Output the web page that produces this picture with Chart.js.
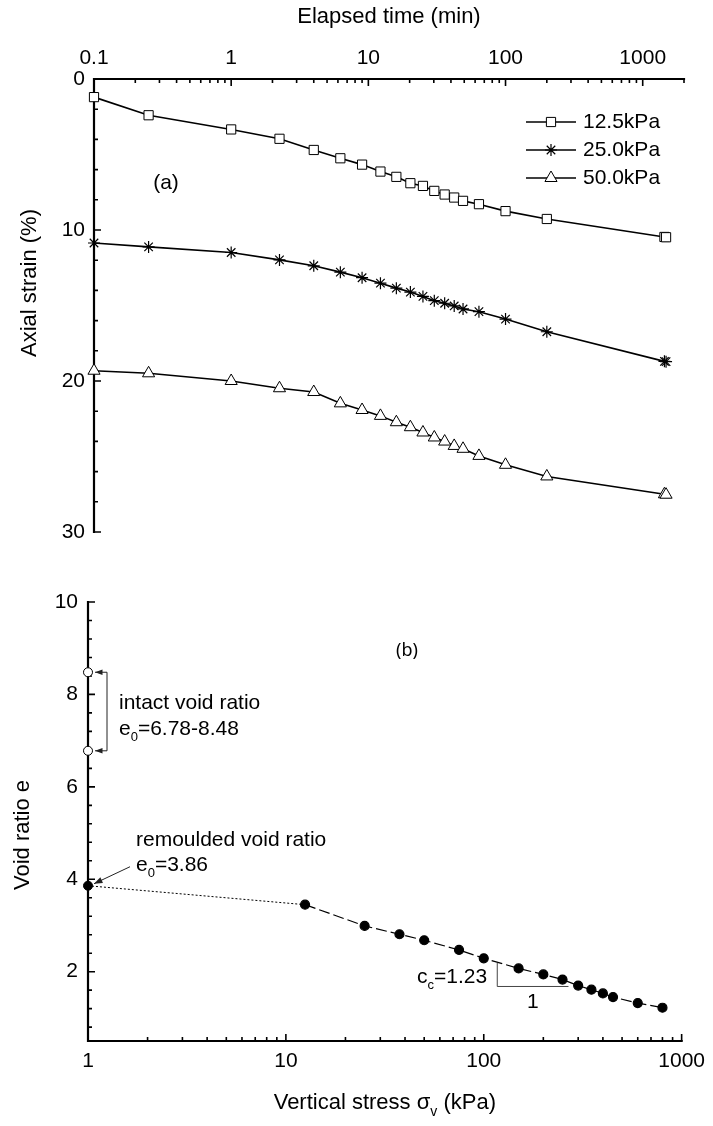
<!DOCTYPE html>
<html lang="en">
<head>
<meta charset="UTF-8">
<title>Creep and compression curves</title>
<script src="https://cdn.jsdelivr.net/npm/chart.js"></script>
<style>
  body { margin: 0; background: #fff; }
  #wrap { position: relative; width: 713px; height: 1126px; }
  .box { position: absolute; left: 0; width: 713px; }
  #boxA { top: 0; height: 570px; }
  #boxB { top: 570px; height: 556px; }
</style>
</head>
<body>
<div id="wrap">
  <div class="box" id="boxA"><canvas id="chartA"></canvas></div>
  <div class="box" id="boxB"><canvas id="chartB"></canvas></div>
</div>
<script>
// (a) elapsed time (min) vs axial strain (%)
const times = [0.1, 0.25, 1, 2.25, 4, 6.25, 9, 12.25, 16, 20.25, 25, 30.25, 36, 42.25, 49, 64, 100, 200, 1440, 1480];
const strain125 = [1.2, 2.4, 3.34, 3.96, 4.70, 5.25, 5.67, 6.13, 6.48, 6.90, 7.08, 7.41, 7.65, 7.85, 8.07, 8.29, 8.75, 9.27, 10.46, 10.48];
const strain250 = [10.86, 11.12, 11.49, 11.98, 12.37, 12.79, 13.16, 13.52, 13.85, 14.11, 14.40, 14.68, 14.85, 15.03, 15.23, 15.41, 15.90, 16.74, 18.70, 18.72];
const strain500 = [19.32, 19.49, 20.0, 20.48, 20.73, 21.48, 21.92, 22.31, 22.73, 23.06, 23.41, 23.74, 24.01, 24.30, 24.49, 24.96, 25.55, 26.32, 27.50, 27.53];
const loadLabels = ['12.5kPa', '25.0kPa', '50.0kPa'];

// (b) vertical stress (kPa) vs void ratio
const stress = [12.5, 25, 37.5, 50, 75, 100, 150, 200, 250, 300, 350, 400, 450, 600, 800];
const voidRatio = [3.45, 2.99, 2.81, 2.68, 2.47, 2.29, 2.07, 1.94, 1.83, 1.70, 1.61, 1.53, 1.45, 1.32, 1.22];
const remouldedE = 3.86;
const intactE = [8.48, 6.78];
const ccLegX = [117, 268];   // slope triangle, kPa
const ccLegY = [2.19, 1.68]; // slope triangle, void ratio

const FONT = '"Liberation Sans", Arial, sans-serif';
Chart.defaults.font.family = FONT;
Chart.defaults.color = '#000';

function logTicks(min, max) {
  const majors = [], minors = [];
  for (let p = Math.floor(Math.log10(min)); p <= Math.ceil(Math.log10(max)); p++) {
    for (let k = 1; k < 10; k++) {
      const v = k * Math.pow(10, p);
      if (v < min * 0.999 || v > max * 1.001) continue;
      (k === 1 ? majors : minors).push(v);
    }
  }
  return { majors, minors };
}
function linTicks(min, max, step) {
  const out = [];
  for (let v = Math.ceil(min / step) * step; v <= max + 1e-9; v += step) out.push(+v.toFixed(4));
  return out;
}

// axis lines and inward ticks
const frame = {
  id: 'frame',
  beforeDatasetsDraw(chart, args, o) {
    const { ctx, chartArea: a } = chart;
    const xs = chart.scales.x, ys = chart.scales.y;
    const xEdge = o.top ? a.top : a.bottom;
    const dir = o.top ? 1 : -1;
    ctx.save();
    ctx.strokeStyle = '#000';
    ctx.lineWidth = 1.6;
    ctx.beginPath();
    o.xMajor.forEach(v => { const p = xs.getPixelForValue(v); ctx.moveTo(p, xEdge); ctx.lineTo(p, xEdge + dir * 7); });
    o.xMinor.forEach(v => { const p = xs.getPixelForValue(v); ctx.moveTo(p, xEdge); ctx.lineTo(p, xEdge + dir * 4); });
    o.yMajor.forEach(v => { const p = ys.getPixelForValue(v); ctx.moveTo(a.left, p); ctx.lineTo(a.left + 7, p); });
    o.yMinor.forEach(v => { const p = ys.getPixelForValue(v); ctx.moveTo(a.left, p); ctx.lineTo(a.left + 4, p); });
    ctx.stroke();
    ctx.lineWidth = 2.2;
    ctx.lineCap = 'square';
    ctx.beginPath();
    ctx.moveTo(a.left, xEdge); ctx.lineTo(a.right, xEdge);
    ctx.moveTo(a.left, a.top); ctx.lineTo(a.left, a.bottom);
    ctx.stroke();
    ctx.restore();
  }
};

function drawParts(ctx, parts, x, y, size, align) {
  // parts: [text, isSub]
  const sub = Math.round(size * 0.62);
  const widths = parts.map(p => { ctx.font = (p[1] ? sub : size) + 'px ' + FONT; return ctx.measureText(p[0]).width; });
  const total = widths.reduce((s, w) => s + w, 0);
  let cx = align === 'center' ? x - total / 2 : x;
  ctx.textAlign = 'left';
  ctx.textBaseline = 'middle';
  parts.forEach((p, i) => {
    ctx.font = (p[1] ? sub : size) + 'px ' + FONT;
    ctx.fillText(p[0], cx, p[1] ? y + size * 0.42 : y);
    cx += widths[i];
  });
}
function arrow(ctx, x1, y1, x2, y2, head) {
  const ang = Math.atan2(y2 - y1, x2 - x1);
  ctx.beginPath(); ctx.moveTo(x1, y1); ctx.lineTo(x2, y2); ctx.stroke();
  ctx.beginPath();
  ctx.moveTo(x2, y2);
  ctx.lineTo(x2 - head * Math.cos(ang - 0.35), y2 - head * Math.sin(ang - 0.35));
  ctx.lineTo(x2 - head * Math.cos(ang + 0.35), y2 - head * Math.sin(ang + 0.35));
  ctx.closePath(); ctx.fill();
}

const notesA = {
  id: 'notesA',
  afterDraw(chart) {
    const { ctx, chartArea: a } = chart;
    ctx.save();
    ctx.fillStyle = '#000';
    drawParts(ctx, [['Elapsed time (min)', false]], (a.left + a.right) / 2, 17, 22, 'center');
    ctx.save();
    ctx.translate(30, 283);
    ctx.rotate(-Math.PI / 2);
    drawParts(ctx, [['Axial strain (%)', false]], 0, 0, 22, 'center');
    ctx.restore();
    drawParts(ctx, [['(a)', false]], 166, 183, 21, 'center');
    // legend
    chart.data.datasets.forEach((ds, i) => {
      const ly = 122 + i * 28;
      ctx.strokeStyle = '#000';
      ctx.lineWidth = 1.6;
      ctx.beginPath(); ctx.moveTo(526, ly); ctx.lineTo(576, ly); ctx.stroke();
      ctx.fillStyle = '#fff';
      ctx.lineWidth = ds.pointBorderWidth;
      Chart.helpers.drawPoint(ctx, { pointStyle: ds.pointStyle, radius: ds.pointRadius, rotation: 0, borderWidth: ds.pointBorderWidth }, 551, ly);
      ctx.fillStyle = '#000';
      drawParts(ctx, [[ds.label, false]], 583, ly, 21, 'left');
    });
    ctx.restore();
  }
};

const notesB = {
  id: 'notesB',
  afterDraw(chart) {
    const { ctx, chartArea: a } = chart;
    const xs = chart.scales.x, ys = chart.scales.y;
    ctx.save();
    ctx.fillStyle = '#000';
    ctx.strokeStyle = '#000';
    drawParts(ctx, [['Vertical stress σ', false], ['v', true], [' (kPa)', false]], (a.left + a.right) / 2, 533, 22, 'center');
    ctx.save();
    ctx.translate(23, 265);
    ctx.rotate(-Math.PI / 2);
    drawParts(ctx, [['Void ratio e', false]], 0, 0, 22, 'center');
    ctx.restore();
    ctx.font = '18px "Noto Sans", sans-serif';
    ctx.textAlign = 'center'; ctx.textBaseline = 'middle';
    ctx.fillText('(b)', 407, 81);

    // intact bracket
    const x0 = xs.getPixelForValue(1);
    const yHi = ys.getPixelForValue(intactE[0]);
    const yLo = ys.getPixelForValue(intactE[1]);
    const bx = x0 + 19;
    ctx.lineWidth = 1;
    ctx.strokeStyle = '#222';
    ctx.fillStyle = '#222';
    ctx.beginPath(); ctx.moveTo(bx, yHi); ctx.lineTo(bx, yLo); ctx.stroke();
    arrow(ctx, bx, yHi, x0 + 7, yHi, 8);
    arrow(ctx, bx, yLo, x0 + 7, yLo, 8);
    ctx.fillStyle = '#000';
    drawParts(ctx, [['intact void ratio', false]], 119, 133, 21, 'left');
    drawParts(ctx, [['e', false], ['0', true], ['=6.78-8.48', false]], 119, 159, 21, 'left');

    // remoulded arrow
    const yR = ys.getPixelForValue(remouldedE);
    drawParts(ctx, [['remoulded void ratio', false]], 136, 270, 21, 'left');
    drawParts(ctx, [['e', false], ['0', true], ['=3.86', false]], 136, 295, 21, 'left');
    ctx.fillStyle = '#222';
    arrow(ctx, x0 + 42, yR - 19, x0 + 6, yR - 2, 9);

    // compression index triangle
    const tx1 = xs.getPixelForValue(ccLegX[0]), tx2 = xs.getPixelForValue(ccLegX[1]);
    const ty1 = ys.getPixelForValue(ccLegY[0]), ty2 = ys.getPixelForValue(ccLegY[1]);
    ctx.strokeStyle = '#444';
    ctx.beginPath(); ctx.moveTo(tx1, ty1); ctx.lineTo(tx1, ty2); ctx.lineTo(tx2, ty2); ctx.stroke();
    ctx.fillStyle = '#000';
    drawParts(ctx, [['c', false], ['c', true], ['=1.23', false]], 417, 407, 21, 'left');
    drawParts(ctx, [['1', false]], (tx1 + tx2) / 2, ty2 + 16, 21, 'center');
    ctx.restore();
  }
};

const xA = logTicks(0.1, 2000);
const xB = logTicks(1, 1000);
const tickFont = { family: FONT, size: 21 };

function series(label, ys, style, r, bw) {
  return {
    label, data: times.map((t, i) => ({ x: t, y: ys[i] })),
    borderColor: '#000', borderWidth: 1.6, tension: 0, clip: false,
    pointStyle: style, pointRadius: r, pointBorderWidth: bw,
    pointBackgroundColor: '#fff', pointBorderColor: '#000'
  };
}

new Chart(document.getElementById('chartA'), {
  type: 'line',
  data: {
    datasets: [
      series(loadLabels[0], strain125, 'rect', 6.5, 1),
      series(loadLabels[1], strain250, 'star', 6, 1.2),
      series(loadLabels[2], strain500, 'triangle', 7, 1)
    ]
  },
  options: {
    responsive: true, maintainAspectRatio: false, animation: false,
    layout: { padding: { left: 0, top: 0, right: 29, bottom: 38 } },
    plugins: { legend: { display: false }, tooltip: { enabled: false },
      frame: { top: true, xMajor: xA.majors, xMinor: xA.minors, yMajor: [0, 10, 20, 30], yMinor: linTicks(0, 30, 2) } },
    scales: {
      x: {
        type: 'logarithmic', position: 'top', min: 0.1, max: 2000,
        afterBuildTicks: s => { s.ticks = xA.majors.map(v => ({ value: v })); },
        afterFit: s => { s.height = 79; },
        ticks: { font: tickFont, color: '#000', padding: 8, maxRotation: 0, autoSkip: false, callback: v => String(v) },
        grid: { display: false, drawTicks: false }, border: { display: false }
      },
      y: {
        type: 'linear', reverse: true, min: 0, max: 30,
        afterBuildTicks: s => { s.ticks = [0, 10, 20, 30].map(v => ({ value: v })); },
        afterFit: s => { s.width = 94; },
        ticks: { font: tickFont, color: '#000', padding: 9 },
        grid: { display: false, drawTicks: false }, border: { display: false }
      }
    }
  },
  plugins: [frame, notesA]
});

new Chart(document.getElementById('chartB'), {
  type: 'line',
  data: {
    datasets: [
      { data: [{ x: 1, y: remouldedE }, { x: stress[0], y: voidRatio[0] }], borderColor: '#000', borderWidth: 1,
        borderDash: [2, 2], pointRadius: 0, clip: false },
      { data: stress.map((s, i) => ({ x: s, y: voidRatio[i] })), borderColor: '#000', borderWidth: 1.2,
        borderDash: [11, 4], pointRadius: 4.5, pointBackgroundColor: '#000', pointBorderColor: '#000', clip: false },
      { data: [{ x: 1, y: remouldedE }], showLine: false, pointRadius: 4.5,
        pointBackgroundColor: '#000', pointBorderColor: '#000', clip: false },
      { data: intactE.map(e => ({ x: 1, y: e })), showLine: false, pointRadius: 4.5, pointBorderWidth: 1,
        pointBackgroundColor: '#fff', pointBorderColor: '#000', clip: false }
    ]
  },
  options: {
    responsive: true, maintainAspectRatio: false, animation: false,
    layout: { padding: { left: 0, top: 32, right: 27, bottom: 0 } },
    plugins: { legend: { display: false }, tooltip: { enabled: false },
      frame: { top: false, xMajor: xB.majors, xMinor: xB.minors, yMajor: [2, 4, 6, 8, 10], yMinor: linTicks(0.8, 9.6, 0.4) } },
    scales: {
      x: {
        type: 'logarithmic', position: 'bottom', min: 1, max: 1000,
        afterBuildTicks: s => { s.ticks = xB.majors.map(v => ({ value: v })); },
        afterFit: s => { s.height = 85; },
        ticks: { font: tickFont, color: '#000', padding: 8, maxRotation: 0, autoSkip: false, callback: v => String(v) },
        grid: { display: false, drawTicks: false }, border: { display: false }
      },
      y: {
        type: 'linear', min: 0.5, max: 10,
        afterBuildTicks: s => { s.ticks = [2, 4, 6, 8, 10].map(v => ({ value: v })); },
        afterFit: s => { s.width = 88; },
        ticks: { font: tickFont, color: '#000', padding: 10 },
        grid: { display: false, drawTicks: false }, border: { display: false }
      }
    }
  },
  plugins: [frame, notesB]
});
</script>
</body>
</html>
